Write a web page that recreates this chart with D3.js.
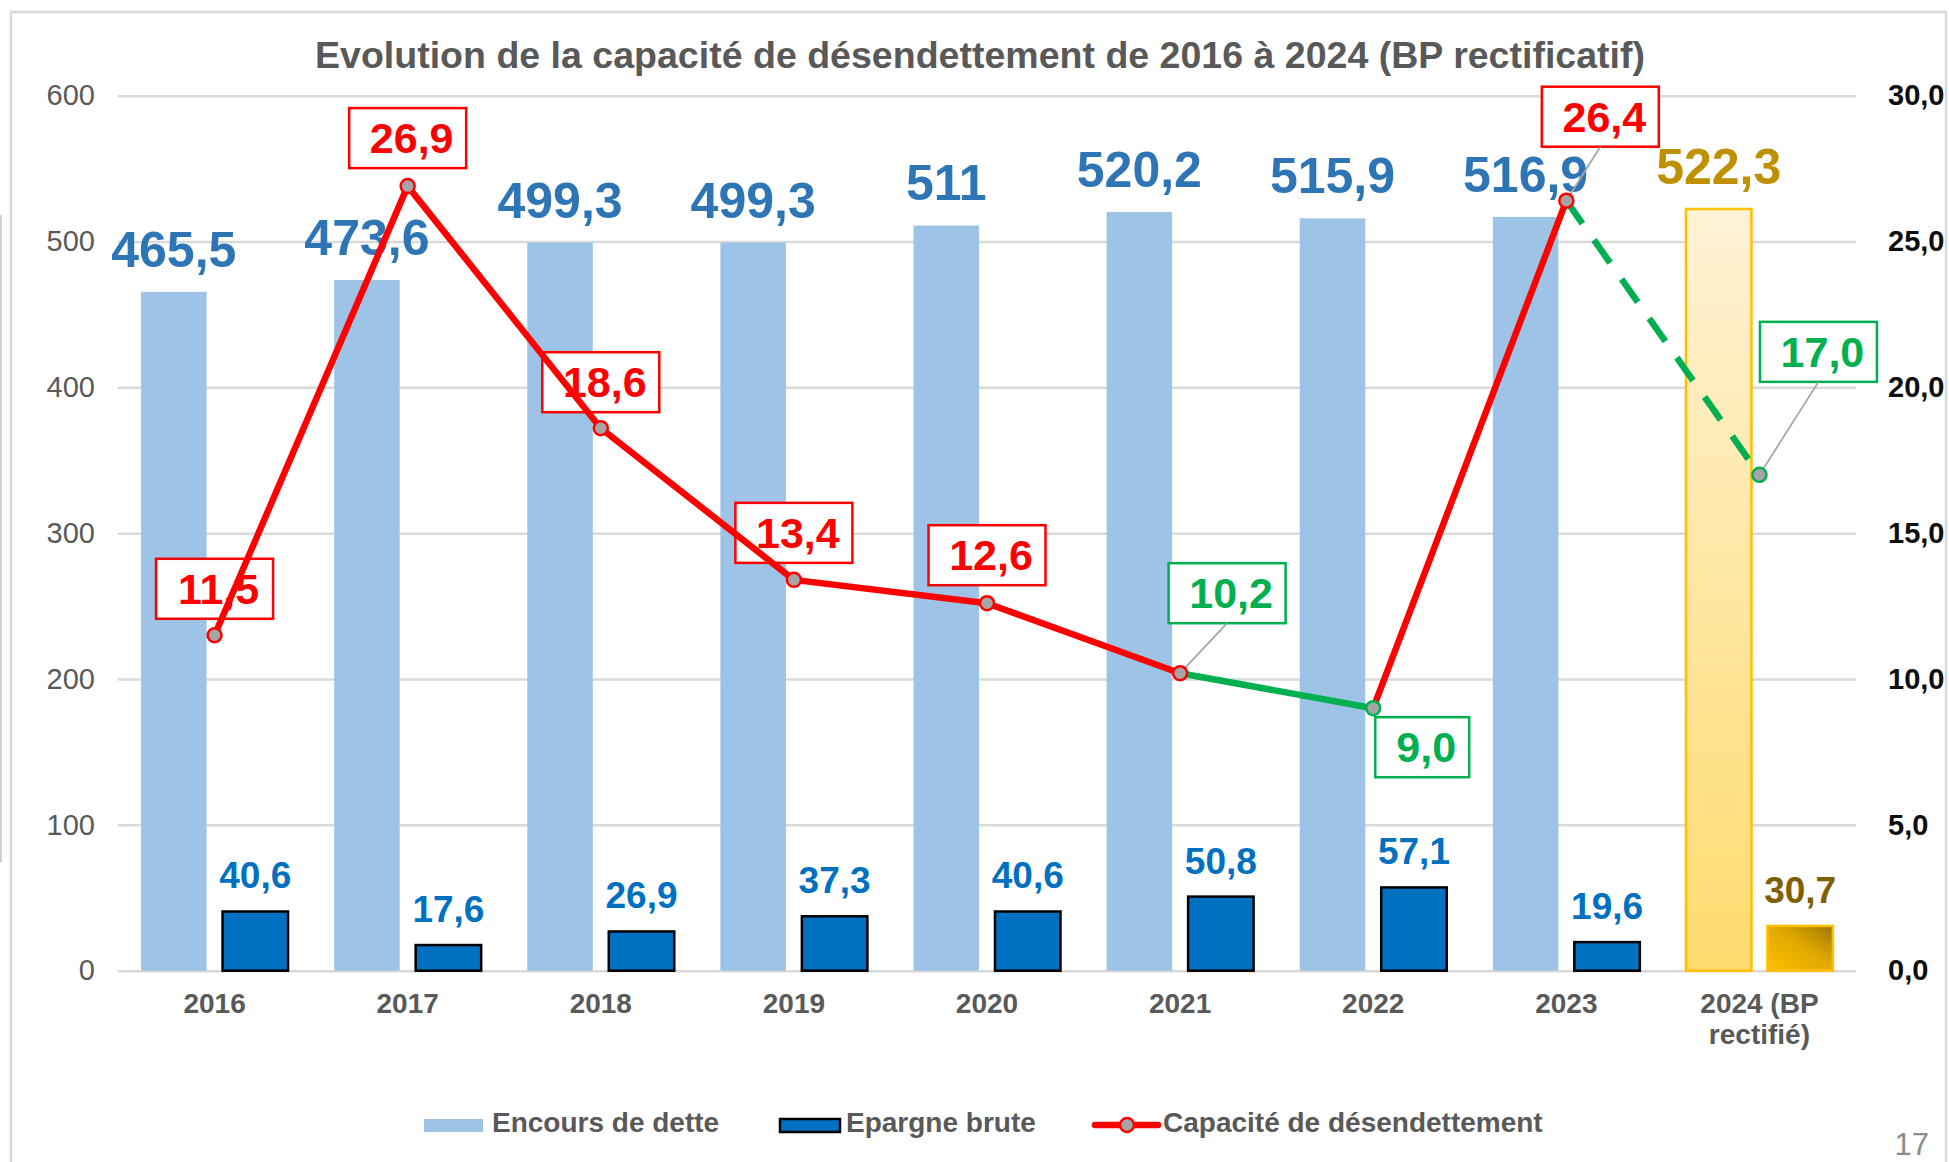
<!DOCTYPE html>
<html><head><meta charset="utf-8">
<script src="https://cdn.jsdelivr.net/npm/d3@7"></script>
<style>
html,body{margin:0;padding:0;background:#fff;}
svg{display:block;}
text{font-family:"Liberation Sans",Arial,sans-serif;}
</style>
</head><body>
<svg id="chart" width="1949" height="1162"></svg>
<script>
// ---- DATA ----
const categories = ["2016","2017","2018","2019","2020","2021","2022","2023","2024 (BP rectifié)"];
const encours = [465.5,473.6,499.3,499.3,511,520.2,515.9,516.9,522.3];
const epargne = [40.6,17.6,26.9,37.3,40.6,50.8,57.1,19.6,30.7];
const capacite = [11.5,26.9,18.6,13.4,12.6,10.2,9.0,26.4,17.0];
const leftTicks = [0,100,200,300,400,500,600];
const rightTicks = [0,5,10,15,20,25,30];
const seriesNames = ["Encours de dette","Epargne brute","Capacité de désendettement"];
const titleText = "Evolution de la capacité de désendettement  de 2016 à 2024 (BP rectificatif)";

// ---- STYLE / LAYOUT ----
const RED="#FF0000", GREEN="#00B050", GRAY="#595959";
const segStyle = ["r","r","r","r","r","g","r","gd"];          // segment i -> i+1
const markerColor = ["r","r","r","r","r","r","g","r","g"];
const boxColor = ["r","r","r","r","r","g","g","r","g"];
const boxOffset = [[0,-46.5],[0,-48],[0,-46],[0,-47],[0,-48],[47,-80],[49,39],[34,-84],[59,-123]];
const boxLeader = [false,false,false,false,false,true,false,true,true];

const svg = d3.select("#chart");
const M = {left:118, right:1856, top:95.7, bottom:970.7};
const fr = d3.formatLocale({decimal:",", thousands:" ", grouping:[3], currency:["","€"]});
const f1 = fr.format(".1f");
const fAuto = v => Number.isInteger(v) ? fr.format("d")(v) : f1(v);

const x = d3.scaleBand().domain(categories).range([M.left, M.right]).padding(0);
const yL = d3.scaleLinear().domain([0,600]).range([M.bottom, M.top]);
const yR = d3.scaleLinear().domain([0,30]).range([M.bottom, M.top]);
const sub = d3.scaleBand().domain(["enc","epa"]).range([-73.5,73.5]).paddingInner(0.196);
const cx = c => x(c) + x.bandwidth()/2;

// defs
const defs = svg.append("defs");
const g1 = defs.append("linearGradient").attr("id","gLight").attr("x1",0).attr("y1",0).attr("x2",0).attr("y2",1);
g1.append("stop").attr("offset","0%").attr("stop-color","#FFF2D6");
g1.append("stop").attr("offset","100%").attr("stop-color","#FFDB6E");
const g2 = defs.append("linearGradient").attr("id","gDark").attr("x1",0).attr("y1",1).attr("x2",1).attr("y2",0);
g2.append("stop").attr("offset","0%").attr("stop-color","#FFC000");
g2.append("stop").attr("offset","55%").attr("stop-color","#E0A800");
g2.append("stop").attr("offset","100%").attr("stop-color","#9E7700");

// outer frame
svg.append("rect").attr("x",11).attr("y",12).attr("width",1935).attr("height",1180)
  .attr("fill","none").attr("stroke","#D9D9D9").attr("stroke-width",2.5);
svg.append("line").attr("x1",1).attr("x2",1).attr("y1",215).attr("y2",862)
  .attr("stroke","#D0D0D0").attr("stroke-width",2);

// title
svg.append("text").attr("x",980).attr("y",68).attr("text-anchor","middle")
  .attr("font-size",36).attr("font-weight","bold").attr("fill",GRAY)
  .attr("textLength",1330).attr("lengthAdjust","spacingAndGlyphs").text(titleText);

// left axis + gridlines
const axL = svg.append("g").attr("transform",`translate(${M.left},0)`)
  .call(d3.axisLeft(yL).tickValues(leftTicks).tickSize(-(M.right-M.left)).tickPadding(23).tickFormat(d3.format("d")));
axL.select(".domain").remove();
axL.selectAll(".tick line").attr("stroke","#D9D9D9").attr("stroke-width",2.5);
axL.selectAll(".tick text").attr("font-size",29).attr("fill",GRAY).attr("font-family","Liberation Sans, Arial, sans-serif");

// right axis
const axR = svg.append("g").attr("transform",`translate(${M.right},0)`)
  .call(d3.axisRight(yR).tickValues(rightTicks).tickSize(0).tickPadding(32).tickFormat(f1));
axR.select(".domain").remove();
axR.selectAll(".tick text").attr("font-size",29).attr("font-weight","bold").attr("fill","#0D0D0D").attr("font-family","Liberation Sans, Arial, sans-serif");

// bottom axis
const axB = svg.append("g").attr("transform",`translate(0,${M.bottom})`)
  .call(d3.axisBottom(x).tickSize(0).tickPadding(22));
axB.select(".domain").remove();
axB.selectAll(".tick text").attr("font-size",28).attr("font-weight","bold").attr("fill",GRAY)
  .attr("font-family","Liberation Sans, Arial, sans-serif")
  .each(function(d){
    if (d.indexOf("(") > 0) {
      const t = d3.select(this); const cut = d.indexOf(" ", d.indexOf("("));
      const parts = [d.slice(0, cut), d.slice(cut+1)];
      t.text(null);
      t.append("tspan").attr("x",0).attr("dy","0.71em").text(parts[0]);
      t.append("tspan").attr("x",0).attr("dy","1.14em").text(parts[1]);
      t.attr("dy",null);
    }
  });

// bars
const last = categories.length - 1;
svg.append("g").selectAll("rect").data(encours).join("rect")
  .attr("x",(d,i)=>cx(categories[i]) + sub("enc"))
  .attr("y",d=>yL(d)).attr("width",sub.bandwidth()).attr("height",d=>yL(0)-yL(d))
  .attr("fill",(d,i)=> i===last ? "url(#gLight)" : "#9DC3E6")
  .attr("stroke",(d,i)=> i===last ? "#FFC000" : "none").attr("stroke-width",2.5);
svg.append("g").selectAll("rect").data(epargne).join("rect")
  .attr("x",(d,i)=>cx(categories[i]) + sub("epa"))
  .attr("y",d=>yL(d)).attr("width",sub.bandwidth()).attr("height",d=>yL(0)-yL(d))
  .attr("fill",(d,i)=> i===last ? "url(#gDark)" : "#0070C0")
  .attr("stroke",(d,i)=> i===last ? "#FFC000" : "#000").attr("stroke-width",2.5);

// bar labels
svg.append("g").selectAll("text").data(encours).join("text")
  .attr("x",(d,i)=>cx(categories[i]) + sub("enc") + sub.bandwidth()/2)
  .attr("y",d=>yL(d)-25).attr("text-anchor","middle")
  .attr("font-size",50).attr("font-weight","bold")
  .attr("fill",(d,i)=> i===last ? "#BF9000" : "#2E75B6").text(d=>fAuto(d));
svg.append("g").selectAll("text").data(epargne).join("text")
  .attr("x",(d,i)=>cx(categories[i]) + sub("epa") + sub.bandwidth()/2)
  .attr("y",d=>yL(d)-23).attr("text-anchor","middle")
  .attr("font-size",37).attr("font-weight","bold")
  .attr("fill",(d,i)=> i===last ? "#7F6000" : "#0070C0").text(d=>fAuto(d));

// line label boxes
const pts = capacite.map((v,i)=>[cx(categories[i]), yR(v)]);
const col = k => k.startsWith("g") ? GREEN : RED;
const boxes = svg.append("g");
capacite.forEach((v,i)=>{
  const [px,py] = pts[i];
  const bx = px + boxOffset[i][0], by = py + boxOffset[i][1];
  const label = f1(v);
  const bw = label.length > 3 ? 117 : 94, bh = 60;
  boxes.append("rect").attr("x",bx-bw/2).attr("y",by-bh/2).attr("width",bw).attr("height",bh)
    .attr("fill","#fff").attr("stroke",col(boxColor[i])).attr("stroke-width",2.5);
  boxes.append("text").attr("x",bx+4).attr("y",by+15).attr("text-anchor","middle")
    .attr("font-size",43).attr("font-weight","bold").attr("fill",col(boxColor[i])).text(label);
});

// line segments
const lineGen = d3.line();
const lines = svg.append("g");
for (let i=0;i<capacite.length-1;i++){
  lines.append("path").attr("d",lineGen([pts[i],pts[i+1]]))
    .attr("fill","none").attr("stroke",col(segStyle[i])).attr("stroke-width",6.5)
    .attr("stroke-dasharray", segStyle[i]==="gd" ? "28,20" : null)
    .attr("stroke-linecap", segStyle[i]==="gd" ? "butt" : "round");
}
// leaders
capacite.forEach((v,i)=>{
  if(!boxLeader[i]) return;
  const [px,py]=pts[i];
  lines.append("line").attr("x1",px).attr("y1",py)
    .attr("x2",px+boxOffset[i][0]).attr("y2",py+boxOffset[i][1]+30)
    .attr("stroke","#A6A6A6").attr("stroke-width",1.8);
});
// markers
lines.selectAll("circle").data(pts).join("circle")
  .attr("cx",d=>d[0]).attr("cy",d=>d[1]).attr("r",7)
  .attr("fill","#A5A5A5").attr("stroke",(d,i)=>col(markerColor[i])).attr("stroke-width",2.5);

// legend
const lg = svg.append("g");
lg.append("rect").attr("x",424).attr("y",1119).attr("width",59).attr("height",13).attr("fill","#9DC3E6");
lg.append("text").attr("x",492).attr("y",1132).attr("font-size",28).attr("font-weight","bold").attr("fill",GRAY).text(seriesNames[0]);
lg.append("rect").attr("x",780).attr("y",1119).attr("width",60).attr("height",13).attr("fill","#0070C0").attr("stroke","#000").attr("stroke-width",2.5);
lg.append("text").attr("x",846).attr("y",1132).attr("font-size",28).attr("font-weight","bold").attr("fill",GRAY).text(seriesNames[1]);
lg.append("line").attr("x1",1095).attr("x2",1158).attr("y1",1125).attr("y2",1125).attr("stroke",RED).attr("stroke-width",6.5).attr("stroke-linecap","round");
lg.append("circle").attr("cx",1127).attr("cy",1125).attr("r",7).attr("fill","#A5A5A5").attr("stroke",RED).attr("stroke-width",2.5);
lg.append("text").attr("x",1163).attr("y",1132).attr("font-size",28).attr("font-weight","bold").attr("fill",GRAY).text(seriesNames[2]);

// page number
svg.append("text").attr("x",1929).attr("y",1155).attr("text-anchor","end")
  .attr("font-size",31).attr("fill","#8C8C8C").text("17");
</script>
</body></html>
